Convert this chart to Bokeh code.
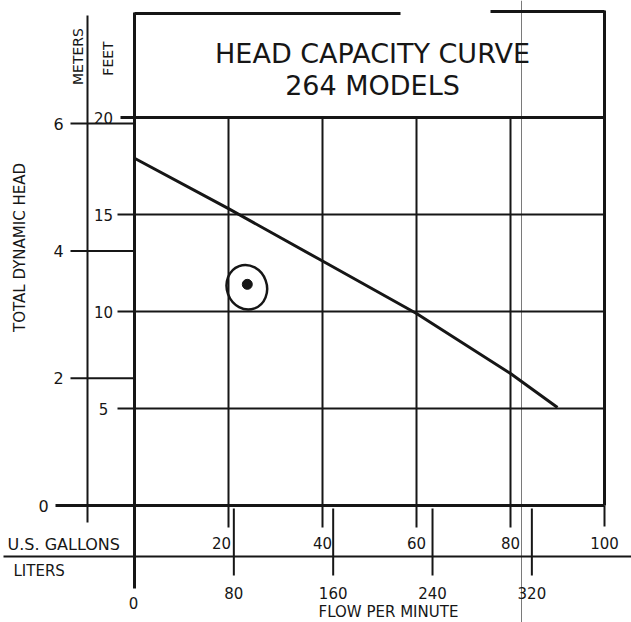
import math
from bokeh.plotting import figure
from bokeh.embed import file_html
from bokeh.resources import INLINE
from bokeh.core.properties import value
from bokeh.models import Range1d

# ---------------- data ----------------
flow_gpm = [0, 20, 40, 60, 80, 90]
head_ft = [17.9, 15.3, 12.6, 9.9, 6.8, 5.05]

gallon_ticks = [20, 40, 60, 80, 100]
gallon_labels = ["20", "40", "60", "80", "100"]
liter_ticks = [0, 80, 160, 240, 320]
liter_labels = ["0", "80", "160", "240", "320"]
feet_ticks = [5, 10, 15, 20]
feet_labels = ["5", "10", "15", "20"]
meter_ticks = [0, 2, 4, 6]
meter_labels = ["0", "2", "4", "6"]

mark_gpm = [24.0]   # hand-drawn dot with circle
mark_ft = [11.4]

title_lines = ["HEAD CAPACITY CURVE", "264 MODELS"]

L_PER_GAL = 3.785
FT_PER_M = 3.2808

# ---------------- layout helpers ----------------
W, H = 631, 622
X0, XS = 134.0, 4.7     # x of 0 gpm, px per gpm
Y0, YS = 505.0, 19.4    # y of 0 ft, px per ft


def gx(px):
    return (px - X0) / XS


def fy(py):
    return (Y0 - py) / YS


INK = "#161616"
FONT = value("DejaVu Sans")

p = figure(width=W, height=H, output_backend="svg", toolbar_location=None,
           x_range=Range1d(gx(0), gx(W)), y_range=Range1d(fy(H), fy(0)),
           x_axis_location=None, y_axis_location=None, min_border=0,
           background_fill_color="white", border_fill_color="white")
p.grid.visible = False
p.outline_line_color = None

# scan artifact: thin vertical fold line
p.segment(x0=[gx(521)], y0=[fy(0)], x1=[gx(521)], y1=[fy(622)],
          line_color="#7a7a7a", line_width=1)

# ---- frame / title box ----
xmax = gallon_ticks[-1]
p.segment(x0=[0, gx(490)], y0=[fy(13), fy(11)], x1=[gx(400), xmax], y1=[fy(13), fy(11)],
          line_color=INK, line_width=3)
p.segment(x0=[gx(120)], y0=[feet_ticks[-1]], x1=[xmax], y1=[feet_ticks[-1]],
          line_color=INK, line_width=3)
p.segment(x0=[0], y0=[fy(12)], x1=[0], y1=[fy(588)], line_color=INK, line_width=3)
p.segment(x0=[xmax], y0=[fy(10)], x1=[xmax], y1=[0], line_color=INK, line_width=3)
p.segment(x0=[gx(55)], y0=[0], x1=[xmax], y1=[0], line_color=INK, line_width=3)

# ---- grid lines / ticks ----
gv = gallon_ticks[:-1]
p.segment(x0=gv, y0=[feet_ticks[-1]] * len(gv), x1=gv, y1=[fy(527)] * len(gv),
          line_color=INK, line_width=2)
p.segment(x0=[xmax], y0=[0], x1=[xmax], y1=[fy(526)], line_color=INK, line_width=2)
fh = feet_ticks[:-1]
p.segment(x0=[gx(117)] * len(fh), y0=fh, x1=[xmax] * len(fh), y1=fh,
          line_color=INK, line_width=2)
lt = [l / L_PER_GAL for l in liter_ticks[1:]]
p.segment(x0=lt, y0=[fy(508)] * len(lt), x1=lt, y1=[fy(575)] * len(lt),
          line_color=INK, line_width=2)
# separator between gallons and liters rows
p.segment(x0=[gx(3)], y0=[fy(556)], x1=[gx(631)], y1=[fy(556)],
          line_color=INK, line_width=2)
# meters axis
p.segment(x0=[gx(87)], y0=[fy(15)], x1=[gx(87)], y1=[fy(522)],
          line_color=INK, line_width=2)
mt = [m * FT_PER_M for m in meter_ticks[1:]]
p.segment(x0=[gx(70)] * len(mt), y0=mt, x1=[0] * len(mt), y1=mt,
          line_color=INK, line_width=2)

# ---- the curve ----
p.line(flow_gpm, head_ft, line_color=INK, line_width=3)

# ---- hand-drawn mark ----
p.ellipse(x=[m - 0.1 for m in mark_gpm], y=[f - 0.15 for f in mark_ft],
          width=40, height=45, width_units="screen", height_units="screen",
          angle=0.35, fill_color=None, line_color=INK, line_width=2.5)
p.scatter(mark_gpm, mark_ft, size=10, color=INK)

# ---- texts ----
def txt(x, y, t, size, align="center", angle=0.0, baseline="middle"):
    p.text(x=x, y=y, text=t, text_font=FONT, text_font_size=f"{size}px",
           text_color=INK, text_align=align, text_baseline=baseline, angle=angle)

txt([gx(372)], [fy(53)], [title_lines[0]], 27)
txt([gx(372)], [fy(85)], [title_lines[1]], 27)

txt([g - (1.5 if g == 20 else 0) for g in gallon_ticks], [fy(542)] * len(gallon_ticks),
    gallon_labels, 15)
txt([l / L_PER_GAL for l in liter_ticks[1:]], [fy(592)] * 4, liter_labels[1:], 15)
txt([liter_ticks[0] / L_PER_GAL - 0.2], [fy(602)], liter_labels[:1], 15)

txt([gx(7)], [fy(544)], ["U.S. GALLONS"], 16, align="left")
txt([gx(13)], [fy(570)], ["LITERS"], 15, align="left")
txt([gx(388)], [fy(611)], ["FLOW PER MINUTE"], 15)

txt([gx(103)] * len(feet_ticks), feet_ticks, feet_labels, 15)
txt([gx(58)] * 3, [m * FT_PER_M for m in meter_ticks[1:]], meter_labels[1:], 16)
txt([gx(43)], [meter_ticks[0]], meter_labels[:1], 16)

txt([gx(19)], [fy(247)], ["TOTAL DYNAMIC HEAD"], 15, angle=math.pi / 2)
txt([gx(77)], [fy(56)], ["METERS"], 14, angle=math.pi / 2)
txt([gx(107)], [fy(58)], ["FEET"], 14, angle=math.pi / 2)

open("out.html", "w").write(file_html(p, INLINE))
